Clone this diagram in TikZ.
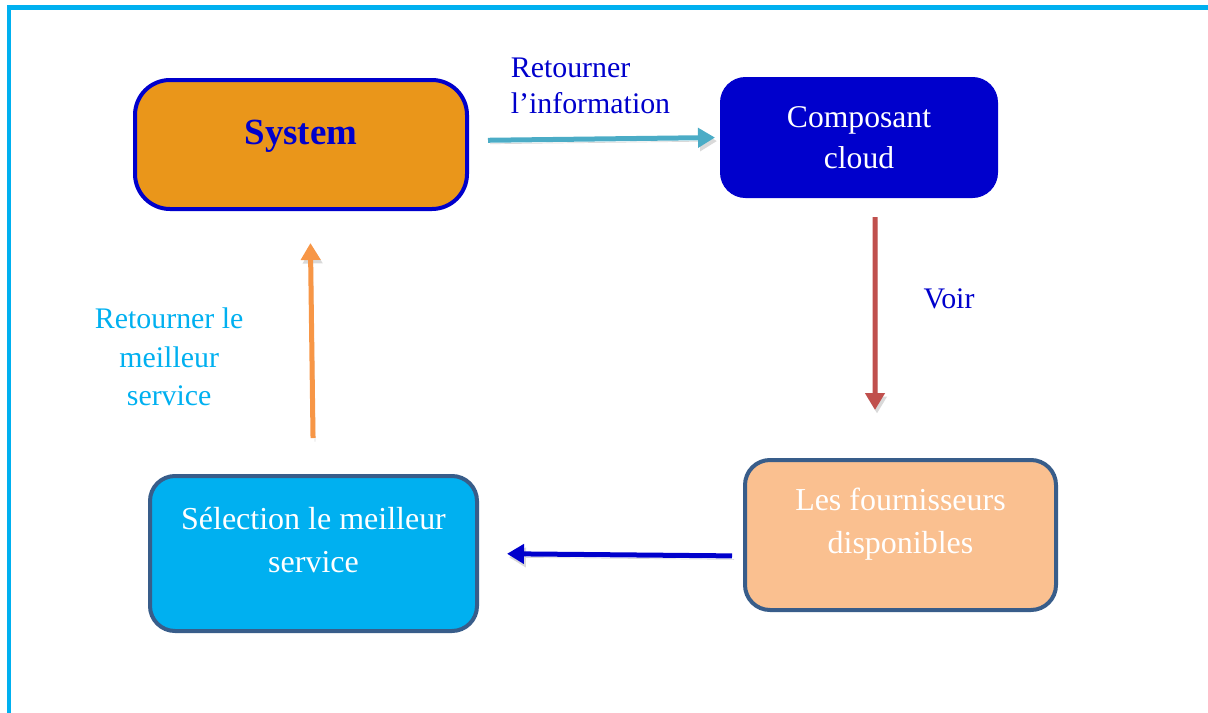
\documentclass[tikz,border=0pt]{standalone}
\usepackage{fontspec}
\setmainfont{Liberation Serif}
\usetikzlibrary{positioning,arrows.meta}
\definecolor{frameblue}{HTML}{00B0F0}
\definecolor{sysorange}{HTML}{EA961A}
\definecolor{deepblue}{HTML}{0000CC}
\definecolor{edgeblue}{HTML}{385D8A}
\definecolor{peach}{HTML}{FAC090}
\definecolor{arrowteal}{HTML}{4BACC6}
\definecolor{arrowred}{HTML}{C0504D}
\definecolor{arroworange}{HTML}{F79646}
\tikzset{
	box/.style={rectangle,rounded corners=0.5cm,draw=edgeblue,line width=0.08cm,
		text=white,align=center,font=\fontsize{18.2}{24.5}\selectfont},
	flow/.style={-{Triangle[length=0.34cm,width=0.38cm]},line width=0.1cm,
		preaction={draw=black!15,transform canvas={shift={(0.04cm,-0.07cm)}}}},
	tag/.style={inner sep=0pt,font=\fontsize{17}{20.4}\selectfont}
}
\newcommand{\lift}[1]{\rule[-#1]{0pt}{0pt}}

\begin{document}
\begin{tikzpicture}
	\useasboundingbox (0,0) rectangle (24.16,-14.26);
	\draw[frameblue,line width=0.09cm] (0.18,-15) -- (0.18,-0.15) -- (25,-0.15);
	
	\node[box,draw=deepblue,fill=sysorange,rounded corners=0.7cm,minimum width=6.64cm,
		minimum height=2.58cm,text=deepblue,font=\fontsize{21}{25}\selectfont\bfseries]
		(s) at (6.02,-2.89) {System\lift{0.48cm}};
	\node[box,draw=deepblue,fill=deepblue,line width=0.02cm,minimum width=5.54cm,
		minimum height=2.4cm,font=\fontsize{18}{23.2}\selectfont]
		(c) [right=5.02cm of s,yshift=0.14cm] {Composant\\cloud};
	\node[box,fill=frameblue,minimum width=6.54cm,minimum height=3.1cm]
		(l) [below=5.26cm of s,xshift=0.25cm] {S\'election le meilleur\\service\lift{0.54cm}};
	\node[box,fill=peach,minimum width=6.22cm,minimum height=3cm]
		(f) [right=5.28cm of l,yshift=0.37cm] {Les fournisseurs\\disponibles\lift{0.57cm}};
	
	\path ([yshift=0.08cm]s.east) edge[flow,draw=arrowteal,shorten <=0.38cm,shorten >=0.1cm]
		node[tag,above=0.46cm,xshift=-0.08cm,align=left,text=deepblue] (info) {Retourner\\l'information} (c.west);
	\path ([xshift=0.32cm]c.south) edge[flow,draw=arrowred,shorten <=0.38cm,shorten >=0.96cm]
		node[tag,pos=0.386,right=0.92cm,text=deepblue] (voir) {Voir} ([xshift=-0.51cm]f.north);
	\path ([yshift=-0.42cm]f.west) edge[flow,draw=deepblue,shorten <=0.22cm,shorten >=0.56cm] (l.east);
	\path (l.north) edge[flow,draw=arroworange,shorten <=0.72cm,shorten >=0.64cm]
		node[tag,pos=0.445,left=1.32cm,align=center,text=frameblue,font=\fontsize{17}{22}\selectfont]
		(best) {Retourner le\\meilleur\\service} ([xshift=0.18cm]s.south);
	
\end{tikzpicture}
\end{document}
